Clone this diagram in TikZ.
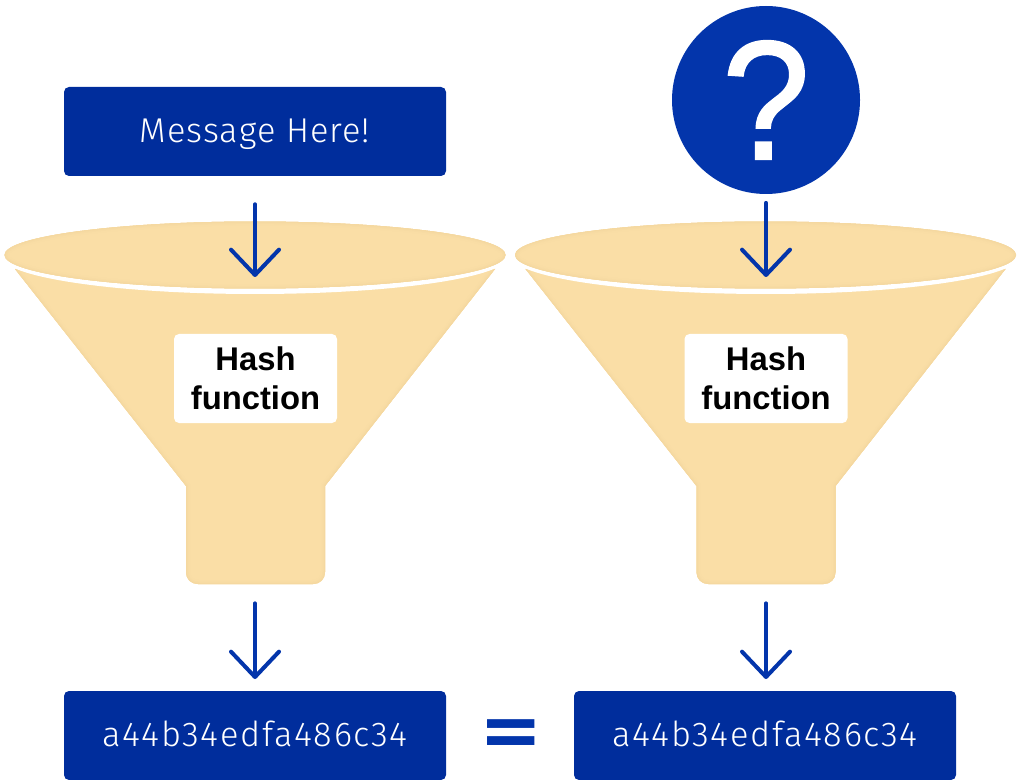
\documentclass[tikz,border=0pt]{standalone}
\usepackage{fontspec}
\usetikzlibrary{arrows.meta,calc}
\setmainfont{Liberation Sans}
\newfontfamily\lightfont{Fira Sans Light}[LetterSpace=3]
\newfontfamily\hashvalfont{Fira Sans Light}[LetterSpace=5]
\newfontfamily\boldfont{Liberation Sans Bold}
\newfontfamily\askfont{Liberation Sans}[FakeBold=1.2]
\newfontfamily\equalfont{DejaVu Sans Bold}
\definecolor{navy}{HTML}{002D9C}
\definecolor{royal}{HTML}{0335AB}
\definecolor{sand}{HTML}{FADEA6}
\definecolor{sandA}{HTML}{F9DDA5}
\definecolor{sandB}{HTML}{F7DBA3}
\definecolor{sandC}{HTML}{F5D8A0}
\tikzset{
  x=0.75pt,y=-0.75pt,
  bluebox/.style={fill=navy,rounded corners=3.75pt,minimum width=286.5pt,minimum height=66.75pt,inner sep=0pt,text=white,font=\fontsize{25.8}{30}\selectfont},
  hashbox/.style={fill=white,rounded corners=3.75pt,minimum width=122.25pt,minimum height=66.75pt,inner sep=0pt,align=center,font=\boldfont\fontsize{24.6}{29.5}\selectfont},
  flow/.style={draw=royal,line width=3pt,line cap=round,line join=round,-{Straight Barb[round,length=19pt,width=36pt,line width=3pt]}},
}
\newcommand{\glowpath}[1]{%
  \begin{scope}
    \path[fill=sand] #1;
    \clip #1;
    \draw[sandA,line width=6pt] #1;
    \draw[sandB,line width=3.6pt] #1;
    \draw[sandC,line width=1.5pt] #1;
  \end{scope}%
}
\newcommand{\funnel}[1]{%
  \begin{scope}[xshift=#1*0.75pt]
    \glowpath{(15,269) -- (186,486) -- (186,572) .. controls (186,579) and (191,584) .. (198,584) -- (313,584) .. controls (320,584) and (325,579) .. (325,572) -- (325,486) -- (495,269) -- (255,240) -- cycle}
    \path[fill=white] (255,256) ellipse[x radius=254,y radius=38];
    \glowpath{(255,255) ellipse[x radius=250.5,y radius=33.5]}
  \end{scope}%
}
\begin{document}
\begin{tikzpicture}
\useasboundingbox (0,0) rectangle (1020,780);
\funnel{0}
\funnel{510.5}
\node[bluebox] (msg) at (255,131.5) {\lightfont\raisebox{-8.5pt}[0pt][0pt]{Message Here!}};
\node[circle,fill=royal,minimum size=141pt,inner sep=0pt,text=white,font=\askfont\fontsize{127}{127}\selectfont] (q) at (766,100) {\scalebox{0.93}[1]{?}};
\node[hashbox] (h1) at (255.5,378.5) {Hash\\function};
\node[hashbox] (h2) at (766,378.5) {Hash\\function};
\node[bluebox] (r1) at (255,735.5) {\hashvalfont\raisebox{-8pt}[0pt][0pt]{a44b34edfa486c34}};
\node[bluebox] (r2) at (765,735.5) {\hashvalfont\raisebox{-8pt}[0pt][0pt]{a44b34edfa486c34}};
\node[inner sep=0pt,text=royal,font=\equalfont\fontsize{61}{61}\selectfont] (eq) at (511,738.5) {\scalebox{0.93}[0.94]{=}};
\coordinate (in1) at (255,277);
\coordinate (in2) at (766,277);
\coordinate (out1) at (255,584);
\coordinate (out2) at (766,584);
\coordinate (end1) at (255,679);
\coordinate (end2) at (766,679);
\draw[flow,shorten <=21pt] (msg.south) -- (in1);
\draw[flow,shorten <=6.5pt] (q.south) -- (in2);
\draw[flow,shorten <=14.5pt] (out1) -- (end1);
\draw[flow,shorten <=14.5pt] (out2) -- (end2);
\end{tikzpicture}
\end{document}
